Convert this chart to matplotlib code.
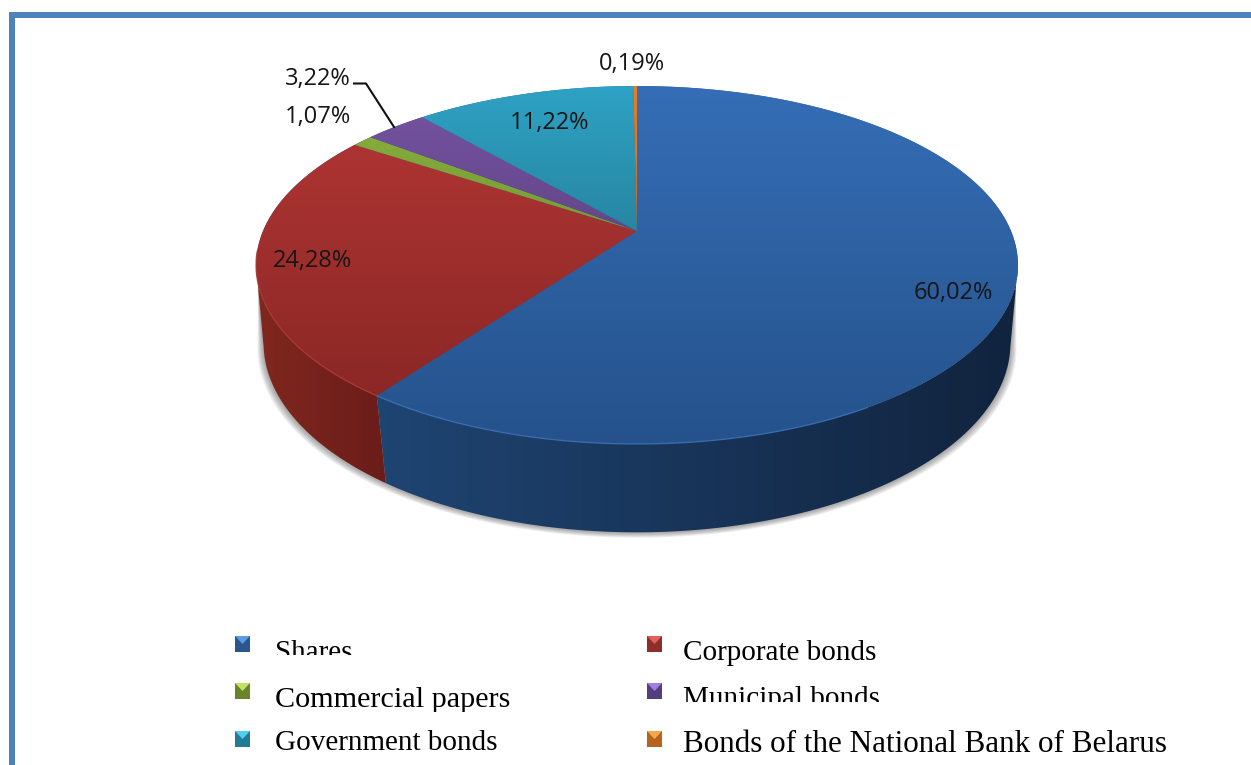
import numpy as np
import matplotlib
matplotlib.use('Agg')
import matplotlib.pyplot as plt
from matplotlib.patches import Polygon, Rectangle

categories = ['Shares', 'Corporate bonds', 'Commercial papers', 'Municipal bonds',
              'Government bonds', 'Bonds of the National Bank of Belarus']
values = [60.02, 24.28, 1.07, 3.22, 11.22, 0.19]
value_labels = ['60,02%', '24,28%', '1,07%', '3,22%', '11,22%', '0,19%']

# colours of the top face at its far and near edge
top_far = ['#356eb6', '#b53735', '#8ab33e', '#7654a3', '#2ea2c4', '#ea7c24']
top_near = ['#25528b', '#842523', '#5d7a2a', '#4a3363', '#1c5c70', '#a85818']
legend_dark = ['#2a5690', '#8e2e2c', '#6a842e', '#553e7e', '#237c96', '#b4641e']
legend_light = ['#5b9be0', '#e0605c', '#c4e060', '#a080e0', '#50d0f0', '#f8a848']

W, H = 1251, 765
CX, CY = 637, 231


def top_xy(theta):
    # theta is clockwise from 12 o'clock, tilted circle in perspective
    u, v = np.sin(theta), np.cos(theta)
    w = 1 + 0.19 * v
    return CX + 374 * u / w, CY - 172.5 * v / w


def bottom_xy(theta):
    u, v = np.sin(theta), np.cos(theta)
    w = 1 + 0.17 * v
    return CX + 368 * u / w, 311 - 183.7 * v / w


def hex_rgb(c):
    return np.array(matplotlib.colors.to_rgb(c))


def gradient(ax, c0, c1, extent, clip, vertical=True, zorder=2):
    t = np.linspace(0, 1, 256)
    rows = np.outer(1 - t, hex_rgb(c0)) + np.outer(t, hex_rgb(c1))
    img = rows[:, None, :] if vertical else rows[None, :, :]
    im = ax.imshow(img, extent=extent, aspect='auto', interpolation='bilinear', zorder=zorder)
    clip.set_transform(ax.transData)
    im.set_clip_path(clip)


fig = plt.figure(figsize=(W / 100, H / 100), dpi=100)
ax = fig.add_axes([0, 0, 1, 1])
ax.axis('off')

# page frame
ax.add_patch(Rectangle((9, 12), W, 5.5, fc='#4f81bd', ec='none', zorder=1))
ax.add_patch(Rectangle((9, 12), 5.5, H, fc='#4f81bd', ec='none', zorder=1))

edges = np.radians(np.concatenate([[0], np.cumsum(values)]) * 3.6)

# side wall, only the front part shows
right_t = np.pi / 2 + np.arcsin(0.19)
left_t = 3 * np.pi / 2 - np.arcsin(0.19)

# soft shadow under the wall, stacked see-through shapes tapering up both sides
sil = np.linspace(right_t, left_t, 200)
bx, by = bottom_xy(sil)
rx, ry = top_xy(right_t)
lx, ly = top_xy(left_t)
for grow in np.arange(1, 7):
    sx = np.r_[rx - 2, CX + (bx - CX) * (1 + grow / 370), lx + 2]
    sy = np.r_[ry + 25, by + grow * 0.9, ly + 25]
    ax.add_patch(Polygon(np.column_stack([sx, sy]), closed=True, fc='#404040', ec='none', alpha=0.09, zorder=1.5))

split = edges[1]
for a0, a1, c0, c1, x0, x1 in [(right_t, split, '#1f4573', '#11233d', 370, 1025),
                               (split, left_t, '#82281f', '#6a1c19', 250, 392)]:
    t = np.linspace(a0, a1, 120)
    tx, ty = top_xy(t)
    bx, by = bottom_xy(t[::-1])
    poly = Polygon(np.column_stack([np.r_[tx, bx], np.r_[ty, by]]), closed=True, fc='none', ec='none')
    ax.add_patch(poly)
    gradient(ax, c0, c1, [x0, x1, 540, 260], poly, vertical=False)

# top face: dark base first so no light seams show between the slices
t = np.linspace(0, 2 * np.pi, 360)
ax.fill(*top_xy(t), color='#2c5c98', lw=0, zorder=2.5)
for i in range(len(values)):
    t = np.linspace(edges[i], edges[i + 1], max(int(values[i] * 6), 4))
    tx, ty = top_xy(t)
    poly = Polygon(np.column_stack([np.r_[CX, tx], np.r_[CY, ty]]), closed=True, fc='none', ec='none')
    ax.add_patch(poly)
    gradient(ax, top_far[i], top_near[i], [200, 1050, 444, 86], poly, zorder=3)

# lit rim on the front edge
for a0, a1, c in [(2.6, split, '#3a72b8'), (split, edges[2] - 0.7, '#ad3a36')]:
    tx, ty = top_xy(np.linspace(a0, a1, 100))
    ax.plot(tx, ty, color=c, lw=1.0, alpha=0.8, zorder=4)

# data labels
label_pos = [(953, 293), (312, 261), (318, 117), (318, 79), (550, 123), (632, 64)]
for s, (x, y) in zip(value_labels, label_pos):
    ax.text(x, y, s, fontsize=17, family='Open Sans', color='#161616', ha='center', va='center', zorder=6)

ax.plot([354, 366, 394], [83.5, 83.5, 127], color='#111111', lw=1.5, zorder=5)

# legend, two columns, three rows
marker_xy = [(235, 636), (647, 636), (235, 683), (647, 683), (235, 731), (647, 731)]
text_xy = [(275, 653), (683, 653), (275, 700), (683, 699), (275, 743), (683, 744)]
text_size = [21, 21, 21.7, 21, 21, 22.4]
for i in range(len(categories)):
    mx, my = marker_xy[i]
    ax.add_patch(Rectangle((mx, my), 15, 16, fc=legend_dark[i], ec='none', zorder=5))
    ax.add_patch(Polygon([(mx, my), (mx + 15, my), (mx + 7.5, my + 8)], fc=legend_light[i], ec='none', zorder=5.5))
    ax.text(text_xy[i][0], text_xy[i][1], categories[i], fontsize=text_size[i], family='Liberation Serif',
            color='black', ha='left', va='center', zorder=6)

# these strips cut off the lower part of a few legend entries
for x, y, w, h in [(270, 655, 300, 22), (680, 702, 300, 20), (270, 712, 300, 6)]:
    ax.add_patch(Rectangle((x, y), w, h, fc='white', ec='none', zorder=7))

ax.set_xlim(0, W)
ax.set_ylim(H, 0)
fig.savefig('out.png', dpi=100)
